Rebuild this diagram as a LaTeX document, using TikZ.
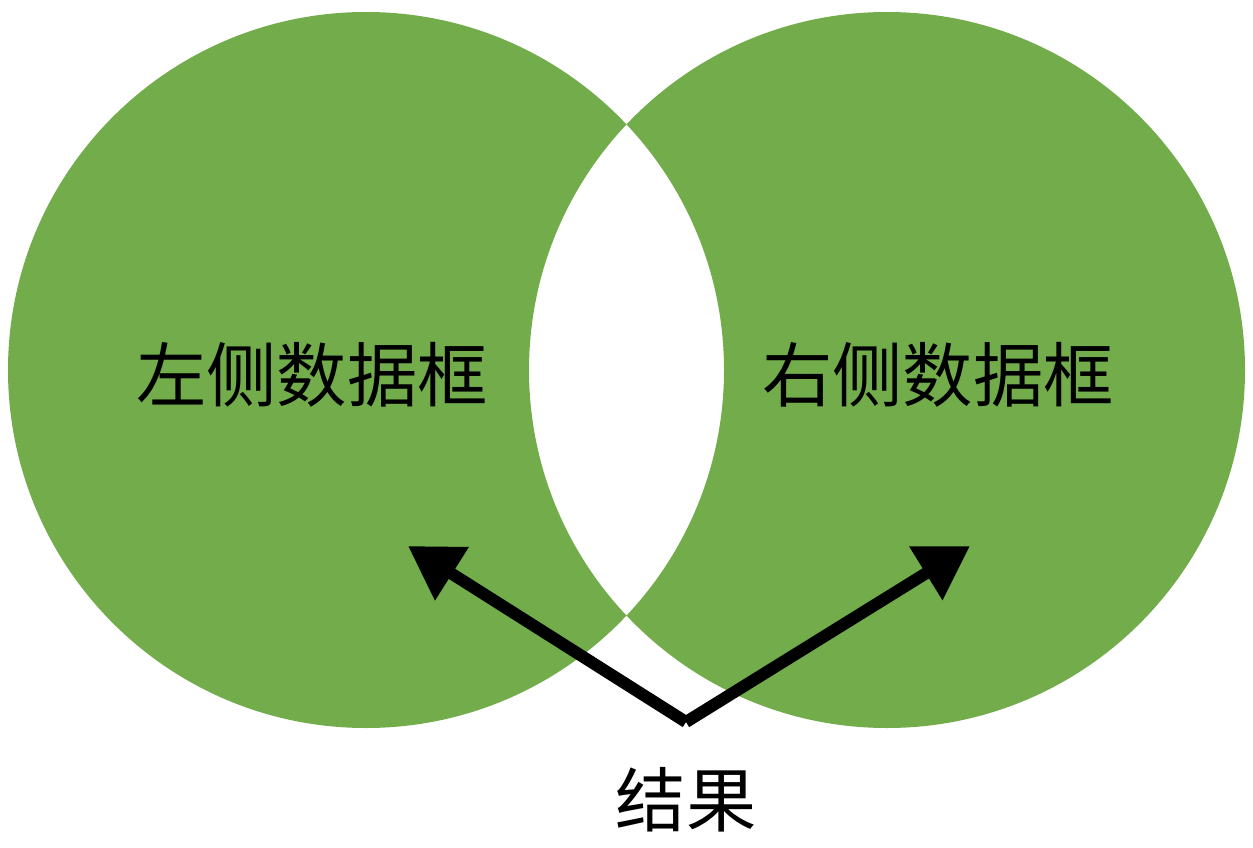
\documentclass[tikz,border=0pt]{standalone}
\usepackage{fontspec}
\newfontfamily\cjk{Noto Sans CJK SC}
\usetikzlibrary{arrows.meta}
\definecolor{vgreen}{HTML}{72AC4B}
\begin{document}
\begin{tikzpicture}[x=0.05cm,y=-0.05cm,
  lbl/.style={font=\cjk\fontsize{100}{110}\selectfont, inner sep=0pt},
  arr/.style={line width=0.6cm, -{Triangle[length=2.6cm,width=3cm]}}]
\useasboundingbox (0,0) rectangle (1253,848);
\fill[vgreen, even odd rule] (366,370) circle[radius=358*0.05cm] (887,370) circle[radius=358*0.05cm];
\node[lbl] (l) at (312,375) {左侧数据框};
\node[lbl] (r) at (938,375) {右侧数据框};
\node[lbl] (res) at (686,800) {结果};
\coordinate (o) at (686,722);
\coordinate (lt) at (408,546);
\coordinate (rt) at (970,546);
\draw[arr] (o) -- (lt);
\draw[arr] (o) -- (rt);
\end{tikzpicture}
\end{document}
